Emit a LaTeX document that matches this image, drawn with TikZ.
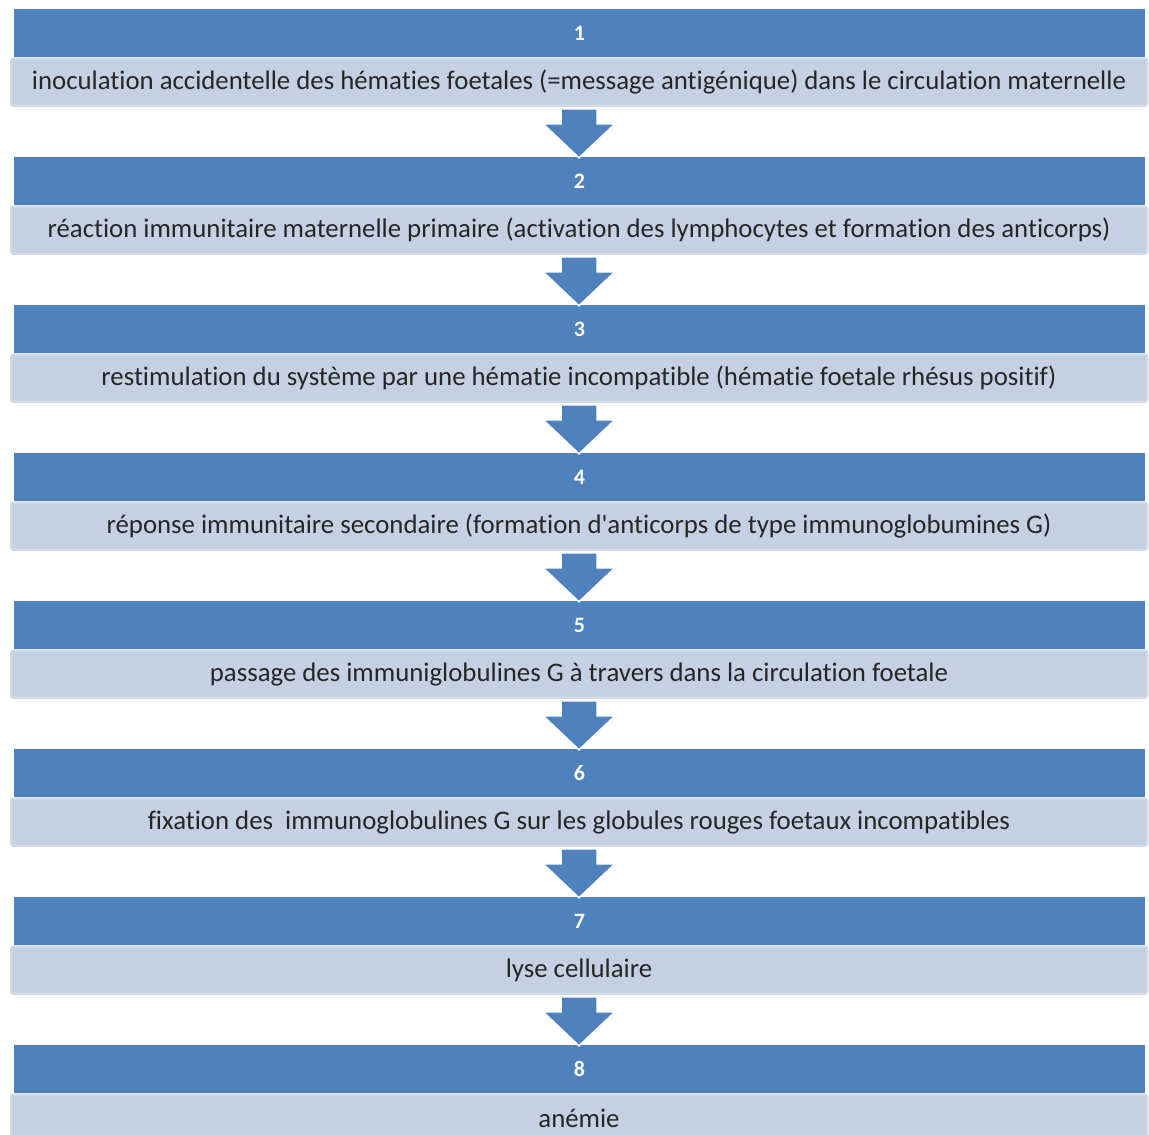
\documentclass[tikz,border=0pt]{standalone}
\usepackage{fontspec}
\setmainfont{Carlito}
\newfontfamily\plainfont{Carlito}[Ligatures={NoCommon}]
\usetikzlibrary{calc}
\definecolor{barblue}{HTML}{4F81BD}
\definecolor{boxfill}{HTML}{C5D0E3}
\definecolor{boxedge}{HTML}{D2D9E7}
\tikzset{
  x=1pt, y=-1pt,
  numbar/.style={fill=barblue, draw=none, minimum width=1131pt, minimum height=48pt, inner sep=0pt,
    text=white, font=\bfseries\fontsize{22}{26}\selectfont},
  textbox/.style={fill=boxfill, draw=boxedge, line width=2.5pt, rounded corners=2pt, minimum width=1136pt, minimum height=47pt, inner sep=0pt,
    text=black!85, font=\plainfont\fontsize{26.8}{30}\selectfont},
  blockarrow/.style={fill=barblue, draw=white, line width=1.5pt, line join=miter}
}
\begin{document}
\begin{tikzpicture}
\useasboundingbox (0,0) rectangle (1149,1135);
\fill[white] (0,0) rectangle (1149,1135);
\foreach \k/\t in {
 1/{inoculation accidentelle des hématies foetales (=message antigénique) dans le circulation maternelle},
 2/{réaction immunitaire maternelle primaire (activation des lymphocytes et formation des anticorps)},
 3/{restimulation du système par une hématie incompatible (hématie foetale rhésus positif)},
 4/{réponse immunitaire secondaire (formation d'anticorps de type immunoglobumines G)},
 5/{passage des immuniglobulines G à travers dans la circulation foetale},
 6/{fixation des~ immunoglobulines G sur les globules rouges foetaux incompatibles},
 7/{lyse cellulaire},
 8/{anémie}}{
  \node[numbar] (bar\k) at (579.5, {33+148*(\k-1)}) {\k};
  \node[textbox] (box\k) at (579, {82+148*(\k-1)}) {\t};
}
\foreach \k [evaluate=\k as \n using int(\k+1)] in {1,...,7}{
  \draw[blockarrow]
    ($(box\k.south)+(-18,2)$) -- ($(box\k.south)+(18,2)$) -- ($(box\k.south)+(18,17)$)
    -- ($(box\k.south)+(36,17)$) -- ($(bar\n.north)+(-0.5,1)$) -- ($(box\k.south)+(-36,17)$)
    -- ($(box\k.south)+(-18,17)$) -- cycle;
}
\end{tikzpicture}
\end{document}
